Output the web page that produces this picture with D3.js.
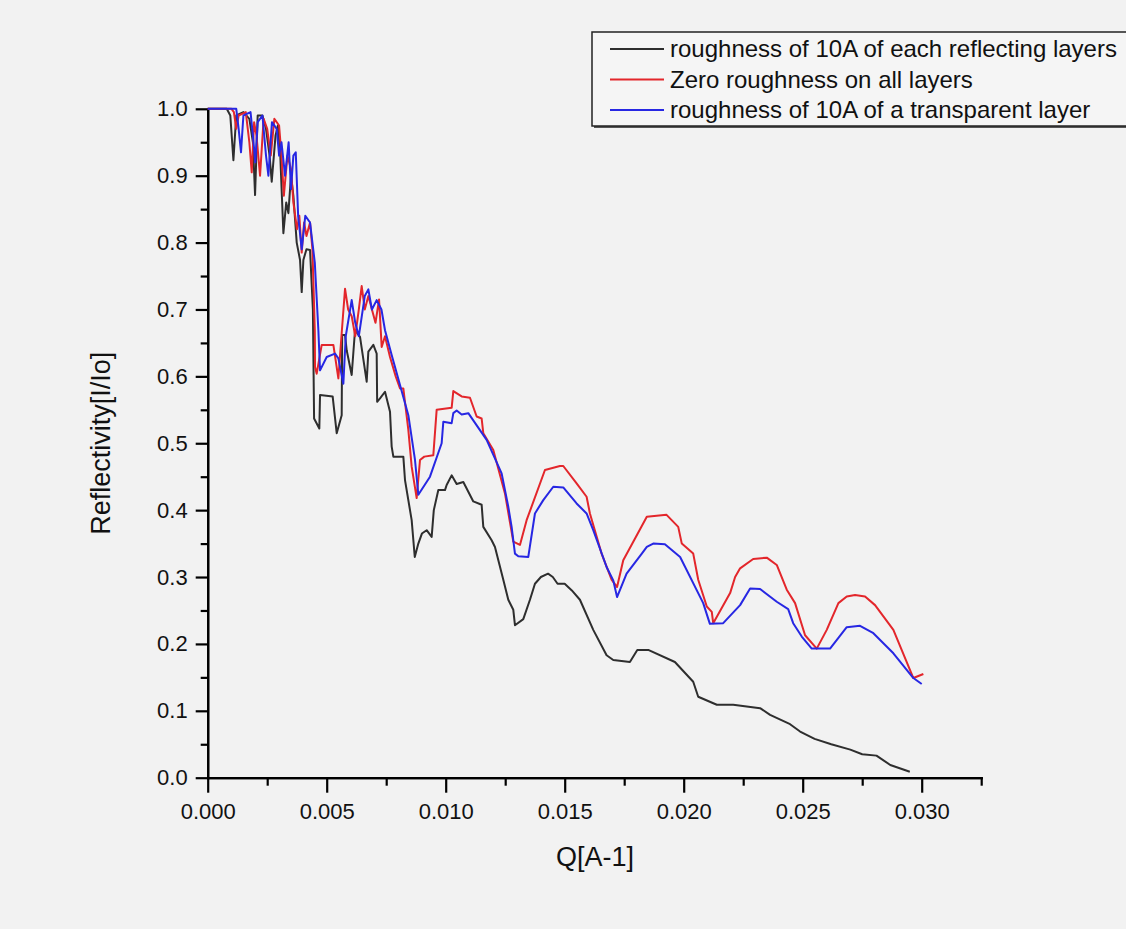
<!DOCTYPE html>
<html>
<head>
<meta charset="utf-8">
<script src="https://cdn.jsdelivr.net/npm/d3@7"></script>
<style>
  html, body { margin: 0; padding: 0; background: #f3f3f3; }
  svg { display: block; font-family: "Liberation Sans", Arial, sans-serif; }
  .axis path, .axis line { stroke: #000; stroke-width: 2.2px; }
  .axis text { fill: #111; font-size: 22px; }
</style>
</head>
<body>
<svg id="chart" width="1126" height="929"></svg>
<script>
// Q values are in units of 1e-3 A^-1, reflectivity is I/Io
const seriesNames = [
  'roughness of 10A of each reflecting layers',
  'Zero roughness on all layers',
  'roughness of 10A of a transparent layer'
];
const seriesColors = ['#2e2e2e', '#e3262b', '#2727e3'];

const blackQ = [0, 0.8, 0.95, 1.08, 1.2, 1.5, 1.75, 1.9, 1.99, 2.1, 2.3, 2.45, 2.6, 2.69, 2.85, 2.95, 3.05, 3.11, 3.18, 3.3,
  3.39, 3.5, 3.6, 3.74, 3.88, 3.95, 4.02, 4.15, 4.3, 4.42, 4.45, 4.47, 4.69, 4.72, 5.25, 5.42, 5.63, 5.65, 5.77, 5.84,
  6.05, 6.19, 6.4, 6.68, 6.75, 6.96, 7.1, 7.12, 7.24, 7.45, 7.66, 7.73, 7.8, 8.22, 8.29, 8.57, 8.7, 8.85, 9.0, 9.2,
  9.41, 9.5, 9.69, 9.97, 10.04, 10.25, 10.46, 10.74, 11.16, 11.51, 11.58, 11.93, 12.07, 12.42, 12.63, 12.84, 12.91, 13.26, 13.54, 13.75,
  14.0, 14.3, 14.5, 14.7, 15.0, 15.3, 15.64, 16.2, 16.76, 17.04, 17.74, 18.05, 18.51, 19.63, 20.4, 20.61, 21.39, 22.08, 23.21, 23.63,
  24.47, 24.89, 25.5, 26.2, 27.0, 27.5, 28.1, 28.68, 29.5];
const blackR = [1.0, 1.0, 0.99, 0.923, 0.99, 0.995, 0.985, 0.95, 0.871, 0.99, 0.99, 0.97, 0.93, 0.891, 0.96, 0.975, 0.93, 0.876, 0.814, 0.86,
  0.844, 0.9, 0.87, 0.8, 0.774, 0.726, 0.774, 0.79, 0.789, 0.7, 0.602, 0.537, 0.522, 0.572, 0.57, 0.515, 0.542, 0.662, 0.662, 0.639,
  0.602, 0.669, 0.659, 0.592, 0.637, 0.647, 0.634, 0.562, 0.567, 0.577, 0.547, 0.495, 0.48, 0.48, 0.445, 0.385, 0.33, 0.35, 0.365, 0.37,
  0.36, 0.4, 0.43, 0.43, 0.4375, 0.452, 0.439, 0.442, 0.413, 0.408, 0.375, 0.355, 0.345, 0.296, 0.266, 0.251, 0.228, 0.237, 0.266, 0.29,
  0.3, 0.305, 0.3, 0.29, 0.29, 0.28, 0.266, 0.221, 0.183, 0.176, 0.173, 0.191, 0.191, 0.173, 0.1435, 0.121, 0.109, 0.109, 0.104, 0.094,
  0.08, 0.069, 0.058, 0.05, 0.042, 0.035, 0.033, 0.019, 0.009];

const redQ = [0, 1.0, 1.1, 1.2, 1.3, 1.6, 1.75, 1.85, 1.95, 2.05, 2.2, 2.35, 2.5, 2.65, 2.8, 3.0, 3.1, 3.2, 3.35, 3.5,
  3.6, 3.75, 3.85, 3.95, 4.05, 4.15, 4.3, 4.4, 4.5, 4.51, 4.58, 4.79, 5.28, 5.49, 5.62, 5.77, 5.9, 6.05, 6.2, 6.35,
  6.47, 6.6, 6.75, 6.9, 7.05, 7.2, 7.31, 7.45, 7.66, 7.9, 8.08, 8.22, 8.43, 8.57, 8.78, 8.92, 9.1, 9.48, 9.62, 10.25,
  10.32, 10.67, 11.02, 11.3, 11.51, 11.58, 12.0, 12.49, 12.84, 13.12, 13.4, 14.17, 14.8, 14.94, 15.5, 15.92, 16.06, 16.55, 16.97, 17.2,
  17.46, 18.45, 19.28, 19.77, 19.92, 20.4, 20.61, 20.97, 21.18, 21.24, 21.95, 22.16, 22.37, 22.92, 23.49, 23.91, 24.33, 24.68, 25.1, 25.59,
  26.01, 26.5, 26.85, 27.2, 27.62, 28.04, 28.81, 29.65, 30.07];
const redR = [1.0, 1.0, 0.995, 0.97, 0.99, 0.995, 0.95, 0.905, 0.98, 0.96, 0.9, 0.985, 0.97, 0.93, 0.985, 0.975, 0.93, 0.87, 0.93, 0.91,
  0.86, 0.82, 0.84, 0.785, 0.83, 0.81, 0.83, 0.79, 0.669, 0.614, 0.604, 0.647, 0.647, 0.597, 0.66, 0.731, 0.7, 0.69, 0.66, 0.7,
  0.735, 0.7, 0.72, 0.7, 0.68, 0.715, 0.644, 0.66, 0.629, 0.6, 0.582, 0.582, 0.52, 0.465, 0.418, 0.475, 0.48, 0.482, 0.55, 0.553,
  0.578, 0.57, 0.568, 0.54, 0.537, 0.515, 0.49, 0.425, 0.353, 0.348, 0.385, 0.46, 0.466, 0.466, 0.44, 0.42, 0.395, 0.335, 0.296, 0.285,
  0.325, 0.39, 0.393, 0.375, 0.35, 0.335, 0.296, 0.256, 0.248, 0.231, 0.276, 0.3, 0.313, 0.327, 0.329, 0.318, 0.281, 0.261, 0.213, 0.193,
  0.221, 0.261, 0.271, 0.273, 0.271, 0.258, 0.221, 0.149, 0.155];

const blueQ = [0, 1.2, 1.3, 1.4, 1.5, 1.8, 1.9, 2.0, 2.1, 2.3, 2.45, 2.55, 2.7, 2.9, 3.0, 3.1, 3.25, 3.4, 3.5, 3.6,
  3.7, 3.8, 3.95, 4.1, 4.3, 4.5, 4.65, 4.72, 5.0, 5.35, 5.49, 5.7, 5.8, 6.05, 6.2, 6.35, 6.6, 6.75, 6.9, 7.1,
  7.3, 7.45, 7.73, 8.08, 8.43, 8.71, 8.85, 9.34, 9.83, 9.9, 10.25, 10.32, 10.46, 10.67, 10.95, 11.72, 12.35, 12.63, 12.77, 12.91,
  13.05, 13.47, 13.75, 14.1, 14.52, 14.94, 15.5, 15.92, 16.2, 16.76, 17.04, 17.2, 17.6, 18.24, 18.45, 18.72, 19.21, 19.85, 20.82, 21.1,
  21.66, 22.37, 22.79, 23.21, 23.91, 24.39, 24.6, 24.96, 25.38, 26.15, 26.85, 27.41, 27.97, 28.81, 29.65, 30.0];
const blueR = [1.0, 1.0, 0.97, 0.935, 0.99, 0.995, 0.96, 0.92, 0.98, 0.99, 0.93, 0.9, 0.98, 0.97, 0.93, 0.95, 0.9, 0.95, 0.88, 0.93,
  0.935, 0.84, 0.79, 0.84, 0.83, 0.77, 0.669, 0.609, 0.629, 0.634, 0.627, 0.589, 0.66, 0.714, 0.68, 0.66, 0.72, 0.73, 0.7, 0.714,
  0.7, 0.669, 0.632, 0.587, 0.542, 0.475, 0.423, 0.45, 0.5, 0.532, 0.53, 0.545, 0.549, 0.543, 0.545, 0.505, 0.455, 0.405, 0.375, 0.335,
  0.331, 0.33, 0.395, 0.415, 0.435, 0.434, 0.41, 0.395, 0.37, 0.315, 0.295, 0.27, 0.305, 0.335, 0.345, 0.35, 0.349, 0.33, 0.261, 0.23,
  0.231, 0.258, 0.283, 0.282, 0.263, 0.252, 0.231, 0.211, 0.193, 0.193, 0.225, 0.227, 0.216, 0.186, 0.149, 0.14];

const xMajor = [0, 5, 10, 15, 20, 25, 30];
const xMinor = [2.5, 7.5, 12.5, 17.5, 22.5, 27.5, 32.5];
const yMajor = [0, 0.1, 0.2, 0.3, 0.4, 0.5, 0.6, 0.7, 0.8, 0.9, 1.0];
const yMinor = [0.05, 0.15, 0.25, 0.35, 0.45, 0.55, 0.65, 0.75, 0.85, 0.95];

const svg = d3.select('#chart');

const x = d3.scaleLinear().domain([0, 32.5]).range([207.7, 981.2]);
const y = d3.scaleLinear().domain([0, 1]).range([777.7, 108.8]);

svg.append('rect').attr('width', 1126).attr('height', 929).attr('fill', '#f2f2f2');

// x axis, minor first then major with labels
svg.append('g').attr('class', 'axis')
   .attr('transform', `translate(0,${y(0)})`)
   .call(d3.axisBottom(x).tickValues(xMinor).tickSize(8).tickSizeOuter(0).tickFormat(''));
svg.append('g').attr('class', 'axis')
   .attr('transform', `translate(0,${y(0)})`)
   .call(d3.axisBottom(x).tickValues(xMajor).tickSize(15).tickSizeOuter(0).tickPadding(11)
     .tickFormat(d => (d / 1000).toFixed(3)));

svg.append('g').attr('class', 'axis')
   .attr('transform', `translate(${x(0)},0)`)
   .call(d3.axisLeft(y).tickValues(yMinor).tickSize(7).tickSizeOuter(0).tickFormat(''));
svg.append('g').attr('class', 'axis')
   .attr('transform', `translate(${x(0)},0)`)
   .call(d3.axisLeft(y).tickValues(yMajor).tickSize(12).tickSizeOuter(0).tickPadding(8)
     .tickFormat(d3.format('.1f')));

svg.selectAll('.axis path.domain').attr('stroke-linecap', 'square');

// curves
const line = d3.line().x(d => x(d[0])).y(d => y(d[1]));
const series = [
  d3.zip(blackQ, blackR),
  d3.zip(redQ, redR),
  d3.zip(blueQ, blueR)
];
svg.selectAll('path.curve')
   .data(series)
   .enter().append('path')
   .attr('class', 'curve')
   .attr('d', line)
   .attr('fill', 'none')
   .attr('stroke', (d, i) => seriesColors[i])
   .attr('stroke-width', 2)
   .attr('stroke-linejoin', 'round');

// axis titles
svg.append('text')
   .attr('transform', `translate(110,${y(0.5)}) rotate(-90)`)
   .attr('text-anchor', 'middle')
   .attr('font-size', 27)
   .attr('fill', '#111')
   .text('Reflectivity[I/Io]');

svg.append('text')
   .attr('x', 595).attr('y', 866)
   .attr('text-anchor', 'middle')
   .attr('font-size', 27)
   .attr('fill', '#111')
   .text('Q[A-1]');

// legend (box runs off the right edge like the original)
const legend = svg.append('g').attr('transform', 'translate(592,32)');
legend.append('rect')
   .attr('x', 2).attr('y', 2)
   .attr('width', 560).attr('height', 94)
   .attr('fill', '#555');
legend.append('rect')
   .attr('width', 560).attr('height', 94)
   .attr('fill', '#f5f5f5')
   .attr('stroke', '#222').attr('stroke-width', 1.5);
const rows = legend.selectAll('g.row')
   .data(seriesNames)
   .enter().append('g')
   .attr('class', 'row')
   .attr('transform', (d, i) => `translate(0,${17 + i * 30.5})`);
rows.append('line')
   .attr('x1', 18).attr('x2', 72)
   .attr('stroke', (d, i) => seriesColors[i])
   .attr('stroke-width', 2);
rows.append('text')
   .attr('x', 78).attr('dy', '0.35em')
   .attr('font-size', 24)
   .attr('fill', '#111')
   .text(d => d);
</script>
</body>
</html>
